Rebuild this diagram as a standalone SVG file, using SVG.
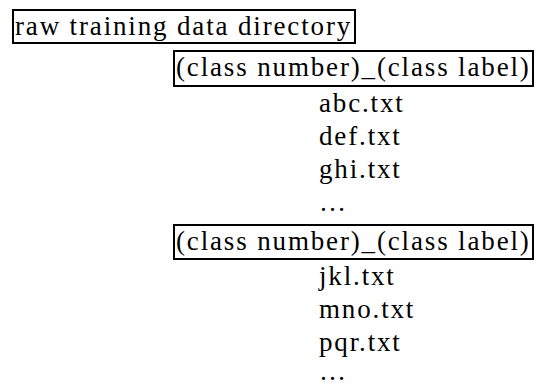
<svg xmlns="http://www.w3.org/2000/svg" width="536" height="387" viewBox="0 0 536 387">
<style>
.t{font-size:27px;fill:#000;letter-spacing:1.85px}
.b{fill:none;stroke:#000;stroke-width:2}
</style>
<rect width="536" height="387" fill="#fff"/>
<g font-family="Liberation Serif, Times New Roman, DejaVu Serif, serif">
<g id="root"><rect class="b" x="13" y="10" width="342" height="33"/><text class="t" x="15" y="35">raw training data directory</text></g>
<g id="class1"><rect class="b" x="174" y="51" width="359" height="35"/><text class="t" x="176" y="76">(class number)_(class label)</text></g>
<g id="f1"><text class="t" x="319" y="112">abc.txt</text></g>
<g id="f2"><text class="t" x="319" y="145">def.txt</text></g>
<g id="f3"><text class="t" x="319" y="178">ghi.txt</text></g>
<g id="f4"><text class="t" x="319" y="211">…</text></g>
<g id="class2"><rect class="b" x="174" y="225" width="359" height="34"/><text class="t" x="176" y="250">(class number)_(class label)</text></g>
<g id="f5"><text class="t" x="319" y="285">jkl.txt</text></g>
<g id="f6"><text class="t" x="319" y="318">mno.txt</text></g>
<g id="f7"><text class="t" x="319" y="351">pqr.txt</text></g>
<g id="f8"><text class="t" x="319" y="380">…</text></g>
</g>
<g id="connectors"></g>
</svg>
